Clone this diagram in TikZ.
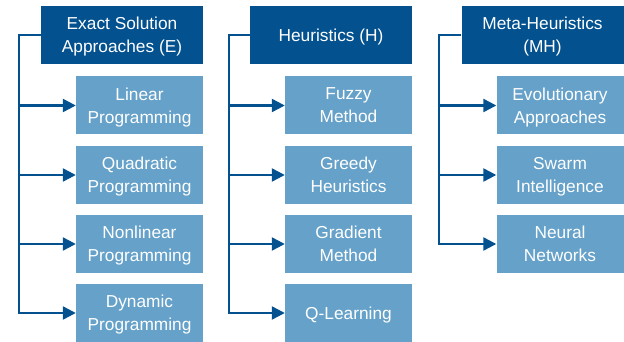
\documentclass[tikz,border=0pt]{standalone}
\usepackage{fontspec}
\setmainfont{Liberation Sans}
\usetikzlibrary{arrows.meta}
\definecolor{darkb}{HTML}{03518F}
\definecolor{lightb}{HTML}{65A1C9}
\begin{document}
\begin{tikzpicture}[x=1pt,y=-1pt,
  head/.style={fill=darkb,text=white,minimum width=162pt,minimum height=58pt,inner sep=0pt,align=center,text depth=0pt,font=\fontsize{17.3}{23}\selectfont},
  child/.style={fill=lightb,text=white,minimum width=127pt,minimum height=58pt,inner sep=0pt,align=center,text depth=0pt,font=\fontsize{17.3}{23}\selectfont},
  conn/.style={draw=darkb,line width=2.4pt},
  arr/.style={conn,-{Triangle[length=13pt,width=13pt]}}]
\useasboundingbox (0,0) rectangle (624,342);
% column 1
\node[head] (E) at (122,35) {Exact Solution\\Approaches (E)};
\node[child] (E1) at (139.5,105.5) {Linear\\Programming};
\node[child] (E2) at (139.5,175) {Quadratic\\Programming};
\node[child] (E3) at (139.5,244) {Nonlinear\\Programming};
\node[child] (E4) at (139.5,313) {Dynamic\\Programming};
\coordinate (sE) at (19,35);
% column 2
\node[head] (H) at (331,35) {Heuristics (H)};
\node[child] (H1) at (348.5,105.5) {Fuzzy\\Method};
\node[child] (H2) at (348.5,175) {Greedy\\Heuristics};
\node[child] (H3) at (348.5,244) {Gradient\\Method};
\node[child] (H4) at (348.5,313) {Q-Learning};
\coordinate (sH) at (229,35);
% column 3
\node[head] (M) at (542.5,35) {Meta-Heuristics\\(MH)};
\node[child] (M1) at (560,105.5) {Evolutionary\\Approaches};
\node[child] (M2) at (560,175) {Swarm\\Intelligence};
\node[child] (M3) at (560,244) {Neural\\Networks};
\coordinate (sM) at (439,35);
% connectors
\draw[arr] (E.west) -- (sE) |- (E4.west);
\foreach \c in {E1,E2,E3} \draw[arr] (sE |- \c.west) -- (\c.west);
\draw[arr] (H.west) -- (sH) |- (H4.west);
\foreach \c in {H1,H2,H3} \draw[arr] (sH |- \c.west) -- (\c.west);
\draw[arr] (M.west) -- (sM) |- (M3.west);
\foreach \c in {M1,M2} \draw[arr] (sM |- \c.west) -- (\c.west);
\end{tikzpicture}
\end{document}
